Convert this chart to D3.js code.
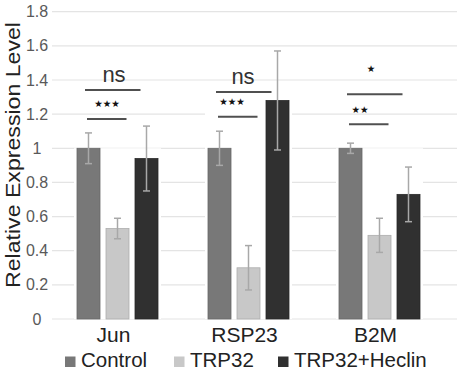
<!DOCTYPE html>
<html><head><meta charset="utf-8">
<script src="https://cdn.jsdelivr.net/npm/d3@7/dist/d3.min.js"></script>
<style>body{margin:0;background:#fff;}svg{display:block;font-family:"Liberation Sans",Arial,sans-serif;}</style>
</head><body><svg id="c" width="461" height="372"></svg>
<script>
const categories = ["Jun", "RSP23", "B2M"];
const series = ["Control", "TRP32", "TRP32+Heclin"];
const controlValues = [1.00, 1.00, 1.00];
const controlErrors = [0.09, 0.10, 0.03];
const trp32Values = [0.53, 0.30, 0.49];
const trp32Errors = [0.06, 0.13, 0.10];
const heclinValues = [0.94, 1.28, 0.73];
const heclinErrors = [0.19, 0.29, 0.16];
const yTicks = [0, 0.2, 0.4, 0.6, 0.8, 1, 1.2, 1.4, 1.6, 1.8];
const yTickLabels = ["0", "0.2", "0.4", "0.6", "0.8", "1", "1.2", "1.4", "1.6", "1.8"];
// significance annotations: category, label, bracket level (data units)
const sigCategories = ["Jun", "Jun", "RSP23", "RSP23", "B2M", "B2M"];
const sigLabels = ["ns", "***", "ns", "***", "*", "**"];
const sigLevels = [1.342, 1.172, 1.33, 1.184, 1.317, 1.141];

const values = [controlValues, trp32Values, heclinValues];
const errors = [controlErrors, trp32Errors, heclinErrors];
const colors = ["#787878", "#c8c8c8", "#303030"];

const svg = d3.select("#c");
const y = d3.scaleLinear().domain([0, 1.8]).range([319, 11.7]);
const x0 = d3.scaleBand().domain(categories).range([52, 445]);
const x1 = d3.scaleBand().domain(series).range([-40.5, 40.5]).paddingInner(6/29).paddingOuter(0);
const cx = c => x0(c) + x0.bandwidth() / 2;

// gridlines
svg.append("g").selectAll("line").data(yTicks).join("line")
  .attr("x1", 52).attr("x2", 457)
  .attr("y1", d => y(d)).attr("y2", d => y(d))
  .attr("stroke", "#e4e4e4").attr("stroke-width", 1.2);

// tick labels
svg.append("g").selectAll("text").data(yTicks).join("text")
  .attr("x", 37).attr("y", d => y(d)).attr("dy", "0.35em")
  .attr("text-anchor", "middle").attr("font-size", 16).attr("fill", "#595959")
  .text((d, i) => yTickLabels[i]);

// y label
svg.append("text")
  .attr("transform", `translate(20,155) rotate(-90)`)
  .attr("text-anchor", "middle").attr("font-size", 21).attr("fill", "#222")
  .attr("textLength", 266).attr("lengthAdjust", "spacingAndGlyphs")
  .text("Relative Expression Level");

// white backdrop behind groups (hides gridlines between bars)
svg.append("g").selectAll("rect").data(categories).join("rect")
  .attr("x", c => cx(c) + x1(series[0]) - 3)
  .attr("width", x1(series[2]) + x1.bandwidth() - x1(series[0]) + 6)
  .attr("y", (c, i) => y(d3.max(values, v => v[i])))
  .attr("height", (c, i) => y(0) - y(d3.max(values, v => v[i])))
  .attr("fill", "#fff");

// bars
series.forEach((s, si) => {
  const g = svg.append("g");
  g.selectAll("rect").data(categories).join("rect")
    .attr("x", c => cx(c) + x1(s))
    .attr("width", x1.bandwidth())
    .attr("y", (c, i) => y(values[si][i]))
    .attr("height", (c, i) => y(0) - y(values[si][i]))
    .attr("fill", colors[si])
    .attr("stroke", d3.color(colors[si]).darker(0.4)).attr("stroke-width", 0.8);
  // error bars
  const eg = svg.append("g").attr("stroke", "#a8a8a8").attr("stroke-width", 1.5).attr("fill", "none");
  categories.forEach((c, i) => {
    const xm = cx(c) + x1(s) + x1.bandwidth() / 2;
    const v = values[si][i], e = errors[si][i];
    eg.append("line").attr("x1", xm).attr("x2", xm).attr("y1", y(v + e)).attr("y2", y(v - e));
    eg.append("line").attr("x1", xm - 3.5).attr("x2", xm + 3.5).attr("y1", y(v + e)).attr("y2", y(v + e));
    eg.append("line").attr("x1", xm - 3.5).attr("x2", xm + 3.5).attr("y1", y(v - e)).attr("y2", y(v - e));
  });
});

// significance brackets
const sg = svg.append("g");
sigLabels.forEach((lab, i) => {
  const c = sigCategories[i];
  const isLong = (i % 2 === 0);
  const xa = cx(c) + (isLong ? -32.5 : -30.5);
  const xb = cx(c) + (isLong ? 23 : 9);
  sg.append("line").attr("x1", xa).attr("x2", xb)
    .attr("y1", y(sigLevels[i])).attr("y2", y(sigLevels[i]))
    .attr("stroke", "#505050").attr("stroke-width", 2);
  if (lab === "ns") {
    sg.append("text").attr("x", cx(c) + (c === "Jun" ? -3.5 : -5.5)).attr("y", y(sigLevels[i]) - 7.5)
      .attr("text-anchor", "middle").attr("font-size", 22).attr("fill", "#333").text(lab);
  } else {
    const stars = lab.replace(/\*/g, "\u2605");
    let dx = c === "Jun" ? -10.5 : c === "RSP23" ? -16.5 : (lab === "*" ? -8.5 : -19.5);
    let dy = lab === "*" ? -25 : -15;
    sg.append("text").attr("x", cx(c) + dx).attr("y", y(sigLevels[i]) + dy).attr("dy", "0.35em")
      .attr("text-anchor", "middle").attr("font-size", 9.5).attr("fill", "#111")
      .attr("font-family", "DejaVu Sans").text(stars);
  }
});

// category labels
svg.append("g").selectAll("text").data(categories).join("text")
  .attr("x", c => cx(c) - 4).attr("y", 342)
  .attr("text-anchor", "middle").attr("font-size", 21).attr("fill", "#222")
  .text(c => c);

// legend
const legX = [65, 174, 278];
const lg = svg.append("g");
series.forEach((s, i) => {
  lg.append("rect").attr("x", legX[i]).attr("y", 356.5).attr("width", 10.5).attr("height", 10.5)
    .attr("fill", colors[i]);
  lg.append("text").attr("x", legX[i] + 16).attr("y", 366.5)
    .attr("font-size", 20.5).attr("fill", "#222").text(s);
});
</script></body></html>
